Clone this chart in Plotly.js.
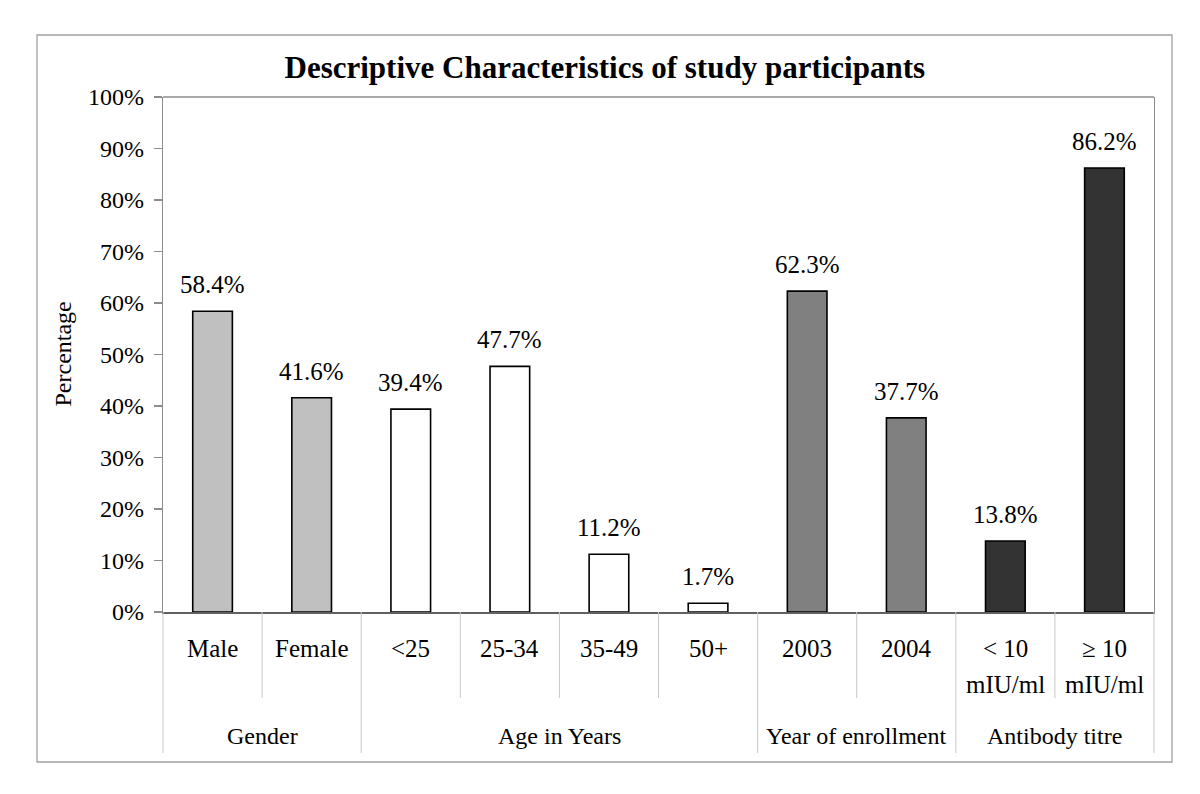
<!DOCTYPE html>
<html>
<head>
<meta charset="utf-8">
<script src="https://cdn.plot.ly/plotly-3.0.1.min.js"></script>
<style>html,body{margin:0;padding:0;background:#fff;}</style>
</head>
<body>
<div id="chart" style="width:1200px;height:794px;"></div>
<script>
// ---- data ----
const categories = ["Male", "Female", "<25", "25-34", "35-49", "50+", "2003", "2004", "< 10<br>mIU/ml", "≥ 10<br>mIU/ml"];
const values = [58.4, 41.6, 39.4, 47.7, 11.2, 1.7, 62.3, 37.7, 13.8, 86.2];
const valueLabels = ["58.4%", "41.6%", "39.4%", "47.7%", "11.2%", "1.7%", "62.3%", "37.7%", "13.8%", "86.2%"];
const groups = ["Gender", "Age in Years", "Year of enrollment", "Antibody titre"];
const groupSizes = [2, 4, 2, 2];
const groupColors = ["#c0c0c0", "#ffffff", "#808080", "#333333"];
const yTicks = [0, 10, 20, 30, 40, 50, 60, 70, 80, 90, 100];
const yTickLabels = ["0%", "10%", "20%", "30%", "40%", "50%", "60%", "70%", "80%", "90%", "100%"];

// ---- layout geometry ----
const W = 1200, H = 794;
const M = {l: 163, r: 46, t: 97, b: 182};
const plotH = H - M.t - M.b;
const plotW = W - M.l - M.r;
const xMin = -0.5, xMax = categories.length - 0.5;
const py = p => (H - M.b - p) / plotH;           // pixel y -> paper y
const px = p => (p - M.l) / plotW;               // pixel x -> paper x
const xp = v => (v - xMin) / (xMax - xMin);      // data x -> paper x

const font = "Liberation Serif, Times New Roman, serif";
const xIdx = categories.map((_, i) => i);

const barColors = [];
groups.forEach((g, gi) => { for (let k = 0; k < groupSizes[gi]; k++) barColors.push(groupColors[gi]); });

const trace = {
  type: "bar",
  x: xIdx,
  y: values,
  width: 0.4,
  marker: {color: barColors, line: {color: "#000", width: 1.6}},
  hoverinfo: "skip"
};

const annotations = [];
// value labels
values.forEach((v, i) => {
  annotations.push({
    x: i, y: v, xref: "x", yref: "y", text: valueLabels[i], showarrow: false,
    yanchor: "bottom", yshift: 11, font: {family: font, size: 25, color: "#000"}
  });
});
// category labels (lines placed separately)
categories.forEach((c, i) => {
  c.split("<br>").forEach((line, li) => {
    annotations.push({
      x: i, xref: "x", y: py(648 + li * 36), yref: "paper", text: line, showarrow: false,
      yanchor: "middle", font: {family: font, size: 25, color: "#000"}
    });
  });
});
// y axis title
annotations.push({
  x: px(62), xref: "paper", y: 0.5, yref: "paper", text: "Percentage", textangle: -90,
  showarrow: false, xanchor: "center", yanchor: "middle", font: {family: font, size: 24, color: "#000"}
});
// group labels and separators
const shapes = [];
let start = 0;
const sepColor = "#c8c8c8";
groups.forEach((g, gi) => {
  const end = start + groupSizes[gi] - 1;
  annotations.push({
    x: (start + end) / 2, xref: "x", y: py(736), yref: "paper", text: g, showarrow: false,
    yanchor: "middle", font: {family: font, size: 24, color: "#000"}
  });
  shapes.push({type: "line", xref: "paper", yref: "paper", x0: xp(start - 0.5), x1: xp(start - 0.5),
    y0: 0, y1: py(753), line: {color: sepColor, width: 1}});
  for (let k = start + 1; k <= end; k++) {
    shapes.push({type: "line", xref: "paper", yref: "paper", x0: xp(k - 0.5), x1: xp(k - 0.5),
      y0: 0, y1: py(698), line: {color: sepColor, width: 1}});
  }
  start = end + 1;
});
shapes.push({type: "line", xref: "paper", yref: "paper", x0: xp(xMax), x1: xp(xMax),
  y0: 0, y1: py(753), line: {color: sepColor, width: 1}});
// top frame line
shapes.push({type: "line", xref: "paper", yref: "paper", x0: 0, x1: 1, y0: 1, y1: 1,
  line: {color: "#8c8c8c", width: 1.3}});
// outer border
shapes.push({type: "rect", xref: "paper", yref: "paper", x0: px(37), x1: px(1172), y0: py(762), y1: py(35),
  line: {color: "#a0a0a0", width: 1.3}, fillcolor: "rgba(0,0,0,0)"});

const layout = {
  width: W, height: H,
  margin: M,
  paper_bgcolor: "#fff", plot_bgcolor: "#fff",
  showlegend: false,
  title: {
    text: "<b>Descriptive Characteristics of study participants</b>",
    font: {family: font, size: 31, color: "#000"},
    x: 0.504, xref: "container", xanchor: "center",
    y: 1 - 67 / H, yref: "container", yanchor: "middle"
  },
  xaxis: {
    range: [xMin, xMax], showticklabels: false, ticks: "", showgrid: false, zeroline: false,
    showline: true, linecolor: "#606060", linewidth: 1.5, fixedrange: true
  },
  yaxis: {
    range: [0, 100], tickvals: yTicks, ticktext: yTickLabels,
    ticks: "outside", ticklen: 8, tickcolor: "#8c8c8c", tickwidth: 1.3,
    ticklabelstandoff: 5,
    tickfont: {family: font, size: 24, color: "#000"},
    showgrid: false, zeroline: false,
    showline: true, mirror: true, linecolor: "#8c8c8c", linewidth: 1.3,
    fixedrange: true
  },
  annotations: annotations,
  shapes: shapes
};

Plotly.newPlot("chart", [trace], layout, {displayModeBar: false, staticPlot: true});
</script>
</body>
</html>
